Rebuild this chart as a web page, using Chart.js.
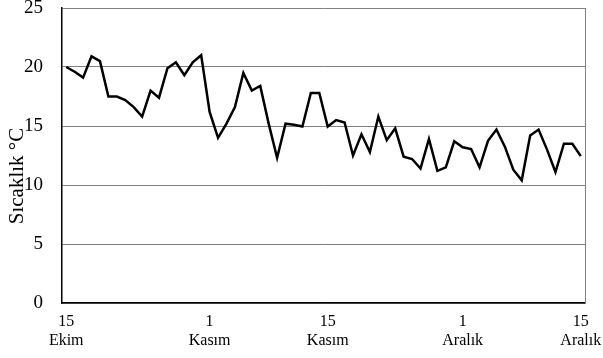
<!DOCTYPE html>
<html>
<head>
<meta charset="utf-8">
<script src="https://cdn.jsdelivr.net/npm/chart.js@4/dist/chart.umd.min.js"></script>
<style>
  html, body { margin: 0; padding: 0; background: #fff; }
  #wrap { width: 603px; height: 358px; position: relative; }
</style>
</head>
<body>
<div id="wrap"><canvas id="c" width="603" height="358"></canvas></div>
<script>
const days = [
  "15 Ekim","16 Ekim","17 Ekim","18 Ekim","19 Ekim","20 Ekim","21 Ekim","22 Ekim","23 Ekim","24 Ekim",
  "25 Ekim","26 Ekim","27 Ekim","28 Ekim","29 Ekim","30 Ekim","31 Ekim",
  "1 Kasım","2 Kasım","3 Kasım","4 Kasım","5 Kasım","6 Kasım","7 Kasım","8 Kasım","9 Kasım","10 Kasım",
  "11 Kasım","12 Kasım","13 Kasım","14 Kasım","15 Kasım","16 Kasım","17 Kasım","18 Kasım","19 Kasım","20 Kasım",
  "21 Kasım","22 Kasım","23 Kasım","24 Kasım","25 Kasım","26 Kasım","27 Kasım","28 Kasım","29 Kasım","30 Kasım",
  "1 Aralık","2 Aralık","3 Aralık","4 Aralık","5 Aralık","6 Aralık","7 Aralık","8 Aralık","9 Aralık","10 Aralık",
  "11 Aralık","12 Aralık","13 Aralık","14 Aralık","15 Aralık"
];
const temperature = [
  20.0, 19.6, 19.1, 20.9, 20.5, 17.5, 17.5, 17.2, 16.6, 15.8,
  18.0, 17.4, 19.9, 20.4, 19.3, 20.4, 21.0,
  16.2, 14.0, 15.2, 16.6, 19.5, 18.0, 18.4, 15.2, 12.3, 15.2,
  15.1, 14.95, 17.8, 17.8, 14.95, 15.5, 15.3, 12.5, 14.3, 12.8,
  15.8, 13.8, 14.8, 12.4, 12.2, 11.4, 13.9, 11.2, 11.5, 13.7,
  13.2, 13.05, 11.5, 13.75, 14.7, 13.25, 11.3, 10.4, 14.2, 14.7,
  13.0, 11.1, 13.5, 13.5, 12.45
];
const tickIndex = [0, 17, 31, 47, 61];
const tickText = [["15","Ekim"], ["1","Kasım"], ["15","Kasım"], ["1","Aralık"], ["15","Aralık"]];
const yTicks = [0, 5, 10, 15, 20, 25];
const yTitle = 'Sıcaklık °C';
const serif = '"Liberation Serif", "Times New Roman", serif';

const extras = {
  id: 'extras',
  afterDraw(chart) {
    const a = chart.chartArea, ctx = chart.ctx;
    ctx.save();
    ctx.strokeStyle = '#808080';
    ctx.lineWidth = 1;
    ctx.beginPath();
    ctx.moveTo(a.right + 0.5, a.top);
    ctx.lineTo(a.right + 0.5, a.bottom);
    ctx.stroke();
    ctx.translate(17, 176);
    ctx.rotate(-Math.PI / 2);
    ctx.fillStyle = '#000';
    ctx.font = '21px ' + serif;
    ctx.textAlign = 'center';
    ctx.textBaseline = 'middle';
    ctx.fillText(yTitle, 0, 0);
    ctx.restore();
  }
};

new Chart(document.getElementById('c'), {
  type: 'line',
  data: {
    labels: days,
    datasets: [{
      data: temperature,
      borderColor: '#000',
      borderWidth: 2.5,
      pointRadius: 0,
      tension: 0,
      fill: false
    }]
  },
  options: {
    responsive: false,
    animation: false,
    layout: { padding: { top: 8, right: 18, left: 0, bottom: 0 } },
    plugins: { legend: { display: false }, tooltip: { enabled: false } },
    scales: {
      x: {
        offset: true,
        grid: { display: false, drawTicks: false },
        border: { display: true, color: '#000', width: 1.5 },
        ticks: {
          autoSkip: false,
          maxRotation: 0,
          minRotation: 0,
          padding: 10,
          color: '#000',
          font: { family: serif, size: 16, lineHeight: 1.15 },
          callback: function (v, i) {
            const k = tickIndex.indexOf(i);
            return k >= 0 ? tickText[k] : '';
          }
        },
        afterFit(s) { s.height = 55; s.paddingLeft = 0; s.paddingRight = 0; }
      },
      y: {
        min: 0,
        max: 25,
        afterBuildTicks(s) { s.ticks = yTicks.map(v => ({ value: v })); },
        grid: { color: '#808080', lineWidth: 1, drawTicks: false },
        border: { display: true, color: '#000', width: 1.5 },
        ticks: {
          padding: 19,
          color: '#000',
          font: { family: serif, size: 19 }
        },
        afterFit(s) { s.width = 62; s.paddingTop = 0; s.paddingBottom = 0; }
      }
    }
  },
  plugins: [extras]
});
</script>
</body>
</html>
